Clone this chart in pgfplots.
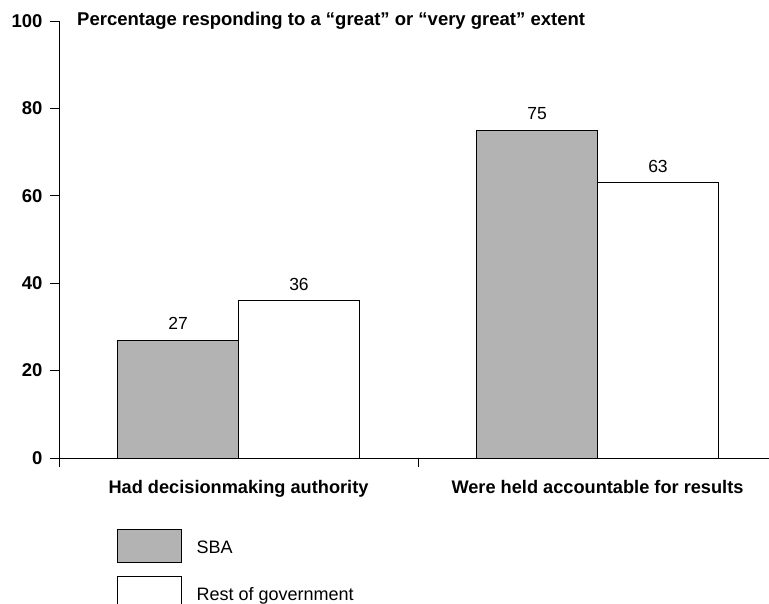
\documentclass[border=0pt]{standalone}
\usepackage{fontspec}
\setmainfont{Liberation Sans}
\usepackage{pgfplots}
\pgfplotsset{compat=1.18}
\definecolor{barGray}{RGB}{179,179,179}
\begin{document}
\begin{tikzpicture}[x=1pt,y=1pt]
\begin{axis}[
  at={(0,0)}, anchor=south west,
  scale only axis, width=718pt, height=437pt,
  xmin=-0.5, xmax=1.5, ymin=0, ymax=100,
  axis x line*=bottom, axis y line*=left,
  x axis line style={-, line width=0.9pt},
  y axis line style={-, line width=0.9pt},
  every tick/.style={black, line width=0.9pt},
  tick align=outside,
  major tick length=9pt,
  ytick={0,20,40,60,80,100},
  yticklabel style={font=\fontsize{18.5}{21}\selectfont\bfseries, xshift=-4pt},
  /pgf/number format/assume math mode=true,
  xtick={-0.5,0.5,1.5},
  xticklabels={},
  extra x ticks={0,1},
  extra x tick labels={Had decisionmaking authority, Were held accountable for results},
  extra x tick style={major tick length=0pt, xticklabel style={font=\fontsize{18.2}{21}\selectfont\bfseries, yshift=-19pt}},
  ybar, bar width=0.337,
  nodes near coords,
  nodes near coords style={font=\fontsize{17.5}{20}\selectfont, inner sep=0pt, anchor=south, yshift=10pt},
  legend style={draw=none, fill=none, inner sep=0pt, at={(axis description cs:0.0808,-0.1625)}, anchor=north west,
    row sep=13pt, nodes={inner sep=0pt, font=\fontsize{18}{20}\selectfont}},
  legend cell align=left,
  legend image code/.code={\draw[#1, line width=0.9pt] (0pt,-15pt) rectangle (64pt,18pt); \path[draw=none,fill=none] (64pt,0) -- (79pt,0);},
  clip=false,
]
\addplot[fill=barGray, draw=black, line width=0.9pt, bar shift=-0.1685] coordinates {(0,27) (1,75)};
\addplot[fill=white, draw=black, line width=0.9pt, bar shift=0.1685] coordinates {(0,36) (1,63)};
\legend{SBA, Rest of government}
\node[anchor=west, font=\fontsize{18.5}{21}\selectfont\bfseries, inner sep=0pt] at (rel axis cs:0,1) [xshift=18pt] {Percentage responding to a “great” or “very great” extent};
\end{axis}
\pgfresetboundingbox
\path (-59pt,-145pt) rectangle (710pt,458pt);
\end{tikzpicture}
\end{document}
